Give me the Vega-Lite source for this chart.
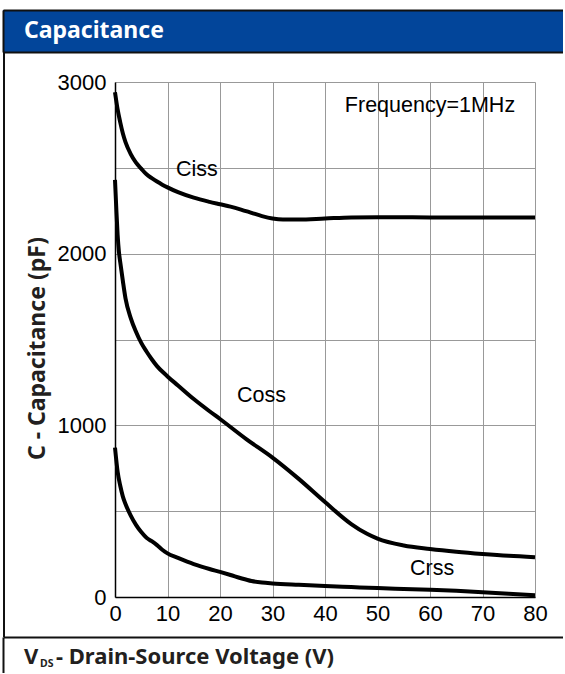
{
  "$schema": "https://vega.github.io/schema/vega-lite/v6.json",
  "background": "white",
  "padding": {"left": 3, "top": 10, "right": 0, "bottom": 0},
  "spacing": 0,
  "config": {"view": {"stroke": null}},
  "datasets": {
    "curves": [
      {"series": "Ciss", "v": 0, "c": 2940}, {"series": "Ciss", "v": 0.5, "c": 2840}, {"series": "Ciss", "v": 1, "c": 2765},
      {"series": "Ciss", "v": 1.5, "c": 2700}, {"series": "Ciss", "v": 2, "c": 2650}, {"series": "Ciss", "v": 3, "c": 2580},
      {"series": "Ciss", "v": 4, "c": 2530}, {"series": "Ciss", "v": 5, "c": 2495}, {"series": "Ciss", "v": 6, "c": 2462},
      {"series": "Ciss", "v": 7, "c": 2440}, {"series": "Ciss", "v": 8, "c": 2420}, {"series": "Ciss", "v": 9, "c": 2402},
      {"series": "Ciss", "v": 10, "c": 2386}, {"series": "Ciss", "v": 12, "c": 2358}, {"series": "Ciss", "v": 15, "c": 2326},
      {"series": "Ciss", "v": 18, "c": 2302}, {"series": "Ciss", "v": 20, "c": 2288}, {"series": "Ciss", "v": 22, "c": 2274},
      {"series": "Ciss", "v": 24, "c": 2257}, {"series": "Ciss", "v": 26, "c": 2238}, {"series": "Ciss", "v": 28, "c": 2219},
      {"series": "Ciss", "v": 30, "c": 2205}, {"series": "Ciss", "v": 32, "c": 2199}, {"series": "Ciss", "v": 35, "c": 2199},
      {"series": "Ciss", "v": 40, "c": 2205}, {"series": "Ciss", "v": 45, "c": 2211}, {"series": "Ciss", "v": 50, "c": 2212},
      {"series": "Ciss", "v": 60, "c": 2211}, {"series": "Ciss", "v": 70, "c": 2210}, {"series": "Ciss", "v": 80, "c": 2210},
      {"series": "Coss", "v": 0, "c": 2430}, {"series": "Coss", "v": 0.25, "c": 2260}, {"series": "Coss", "v": 0.5, "c": 2110},
      {"series": "Coss", "v": 0.75, "c": 2010}, {"series": "Coss", "v": 1, "c": 1950}, {"series": "Coss", "v": 1.5, "c": 1840},
      {"series": "Coss", "v": 2, "c": 1740}, {"series": "Coss", "v": 3, "c": 1625}, {"series": "Coss", "v": 4, "c": 1545},
      {"series": "Coss", "v": 5, "c": 1480}, {"series": "Coss", "v": 6, "c": 1430}, {"series": "Coss", "v": 7, "c": 1385},
      {"series": "Coss", "v": 8, "c": 1345}, {"series": "Coss", "v": 10, "c": 1285}, {"series": "Coss", "v": 12, "c": 1232},
      {"series": "Coss", "v": 15, "c": 1153}, {"series": "Coss", "v": 18, "c": 1082}, {"series": "Coss", "v": 20, "c": 1037},
      {"series": "Coss", "v": 25, "c": 920}, {"series": "Coss", "v": 30, "c": 812}, {"series": "Coss", "v": 35, "c": 688},
      {"series": "Coss", "v": 40, "c": 553}, {"series": "Coss", "v": 45, "c": 425}, {"series": "Coss", "v": 48, "c": 368},
      {"series": "Coss", "v": 50, "c": 340}, {"series": "Coss", "v": 55, "c": 300}, {"series": "Coss", "v": 60, "c": 280},
      {"series": "Coss", "v": 65, "c": 264}, {"series": "Coss", "v": 70, "c": 251}, {"series": "Coss", "v": 75, "c": 240},
      {"series": "Coss", "v": 80, "c": 232},
      {"series": "Crss", "v": 0, "c": 870}, {"series": "Crss", "v": 0.5, "c": 730}, {"series": "Crss", "v": 1, "c": 648},
      {"series": "Crss", "v": 1.5, "c": 585}, {"series": "Crss", "v": 2, "c": 542}, {"series": "Crss", "v": 3, "c": 474},
      {"series": "Crss", "v": 4, "c": 420}, {"series": "Crss", "v": 5, "c": 378}, {"series": "Crss", "v": 6, "c": 345},
      {"series": "Crss", "v": 7, "c": 325}, {"series": "Crss", "v": 8, "c": 302}, {"series": "Crss", "v": 9, "c": 275},
      {"series": "Crss", "v": 10, "c": 254}, {"series": "Crss", "v": 12, "c": 228}, {"series": "Crss", "v": 15, "c": 192},
      {"series": "Crss", "v": 18, "c": 163}, {"series": "Crss", "v": 20, "c": 146}, {"series": "Crss", "v": 22, "c": 128},
      {"series": "Crss", "v": 24, "c": 109}, {"series": "Crss", "v": 26, "c": 93}, {"series": "Crss", "v": 28, "c": 84},
      {"series": "Crss", "v": 30, "c": 79}, {"series": "Crss", "v": 35, "c": 71}, {"series": "Crss", "v": 40, "c": 64},
      {"series": "Crss", "v": 45, "c": 58}, {"series": "Crss", "v": 50, "c": 52}, {"series": "Crss", "v": 55, "c": 47},
      {"series": "Crss", "v": 60, "c": 42}, {"series": "Crss", "v": 65, "c": 36}, {"series": "Crss", "v": 70, "c": 28},
      {"series": "Crss", "v": 75, "c": 19}, {"series": "Crss", "v": 80, "c": 10}
    ],
    "labels": [
      {"label": "Ciss", "v": 15.6, "c": 2490},
      {"label": "Coss", "v": 27.9, "c": 1171},
      {"label": "Crss", "v": 60.4, "c": 163},
      {"label": "Frequency=1MHz", "v": 60, "c": 2860}
    ]
  },
  "vconcat": [
    {
      "width": 560,
      "height": 42,
      "view": {"fill": "#02459A"},
      "resolve": {"axis": {"x": "independent"}},
      "layer": [
        {
          "data": {"values": [{"title": "Capacitance"}]},
          "mark": {"type": "text", "align": "left", "baseline": "middle", "color": "white", "font": "Noto Sans", "fontWeight": "bold", "fontSize": 23, "dx": 21},
          "encoding": {
            "text": {"field": "title"},
            "x": {"datum": 0, "type": "quantitative", "scale": {"domain": [0, 1]},
                  "axis": {"orient": "top", "domainColor": "#111111", "domainWidth": 2, "ticks": false, "labels": false, "grid": false, "title": null}},
            "y": {"datum": 0.5, "type": "quantitative", "scale": {"domain": [0, 1]},
                  "axis": {"orient": "left", "domainColor": "#111111", "domainWidth": 2, "ticks": false, "labels": false, "grid": false, "title": null}}
          }
        },
        {
          "data": {"values": []},
          "mark": {"type": "point", "opacity": 0},
          "encoding": {
            "x": {"datum": 0, "type": "quantitative", "scale": {"domain": [0, 1]},
                  "axis": {"orient": "bottom", "domainColor": "#111111", "domainWidth": 2, "ticks": false, "labels": false, "grid": false, "title": null}}
          }
        }
      ]
    },
    {
      "spacing": 21,
      "hconcat": [
        {
          "width": 2,
          "height": 585,
          "view": {"fill": "#111111"},
          "data": {"values": []},
          "mark": {"type": "point", "opacity": 0}
        },
        {
          "spacing": 18,
          "vconcat": [
            {
              "width": 1,
              "height": 1,
              "data": {"values": []},
              "mark": {"type": "point", "opacity": 0}
            },
            {
              "width": 420,
              "height": 515,
              "layer": [
                {
                  "data": {"name": "curves"},
                  "mark": {"type": "line", "color": "black", "strokeWidth": 4, "interpolate": "monotone", "strokeCap": "butt"},
                  "encoding": {
                    "x": {"field": "v", "type": "quantitative", "scale": {"domain": [0, 80], "nice": false},
                          "axis": {"values": [0, 5, 10, 15, 20, 25, 30, 35, 40, 45, 50, 55, 60, 65, 70, 75, 80],
                                   "labelExpr": "datum.value % 10 === 0 ? datum.label : ''",
                                   "grid": true, "gridColor": "#999999", "gridWidth": 1,
                                   "ticks": false, "domainColor": "#000000", "domainWidth": 1.5,
                                   "labelFont": "Liberation Sans", "labelFontSize": 22, "labelColor": "#000000",
                                   "labelPadding": 6, "labelFlush": false, "labelOverlap": false, "title": null}},
                    "y": {"field": "c", "type": "quantitative", "scale": {"domain": [0, 3000], "nice": false},
                          "axis": {"values": [0, 500, 1000, 1500, 2000, 2500, 3000],
                                   "labelExpr": "datum.value % 1000 === 0 ? datum.label : ''",
                                   "format": "d",
                                   "grid": true, "gridColor": "#999999", "gridWidth": 1,
                                   "ticks": false, "domainColor": "#000000", "domainWidth": 1.5,
                                   "labelFont": "Liberation Sans", "labelFontSize": 22, "labelColor": "#000000",
                                   "labelPadding": 9, "labelFlush": false, "labelOverlap": false,
                                   "title": "C - Capacitance (pF)", "titleFont": "Noto Sans", "titleFontWeight": "bold",
                                   "titleFontSize": 23, "titleColor": "#231F20", "titleX": -66, "titleY": 266}},
                    "detail": {"field": "series"}
                  }
                },
                {
                  "data": {"name": "labels"},
                  "mark": {"type": "text", "font": "Liberation Sans", "fontSize": 21.5, "color": "#000000", "baseline": "middle", "align": "center"},
                  "encoding": {
                    "x": {"field": "v", "type": "quantitative"},
                    "y": {"field": "c", "type": "quantitative"},
                    "text": {"field": "label"}
                  }
                }
              ]
            }
          ]
        }
      ]
    },
    {
      "width": 560,
      "height": 36,
      "encoding": {
        "x": {"datum": 0, "type": "quantitative", "scale": {"domain": [0, 1]},
              "axis": {"orient": "top", "domainColor": "#111111", "domainWidth": 2, "ticks": false, "labels": false, "grid": false, "title": null}},
        "y": {"datum": 0.45, "type": "quantitative", "scale": {"domain": [0, 1]},
              "axis": {"orient": "left", "domainColor": "#111111", "domainWidth": 2, "ticks": false, "labels": false, "grid": false, "title": null}}
      },
      "layer": [
        {
          "data": {"values": [{"t": "V"}]},
          "mark": {"type": "text", "align": "left", "baseline": "middle", "font": "Noto Sans", "fontWeight": "bold", "fontSize": 22, "color": "#231F20", "dx": 21},
          "encoding": {"text": {"field": "t"}}
        },
        {
          "data": {"values": [{"t": "DS"}]},
          "mark": {"type": "text", "align": "left", "baseline": "middle", "font": "Noto Sans", "fontWeight": "bold", "fontSize": 10.5, "color": "#231F20", "dx": 37, "dy": 7},
          "encoding": {"text": {"field": "t"}}
        },
        {
          "data": {"values": [{"t": "- Drain-Source Voltage (V)"}]},
          "mark": {"type": "text", "align": "left", "baseline": "middle", "font": "Noto Sans", "fontWeight": "bold", "fontSize": 22, "color": "#231F20", "dx": 53},
          "encoding": {"text": {"field": "t"}}
        }
      ]
    }
  ]
}
